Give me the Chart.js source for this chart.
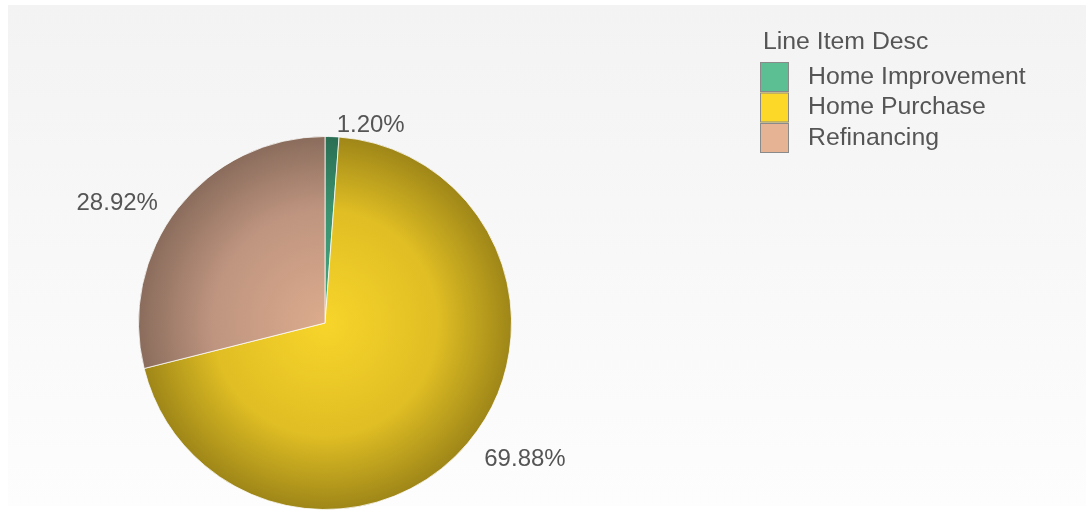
<!DOCTYPE html>
<html>
<head>
<meta charset="utf-8">
<script src="https://cdn.jsdelivr.net/npm/chart.js@4.4.0/dist/chart.umd.min.js"></script>
<style>
  body { margin: 0; background: #fff; }
  #wrap { position: relative; width: 1086px; height: 512px; }
  #bg { position: absolute; left: 8px; top: 5px; right: 0; bottom: 6px;
        background: linear-gradient(#f3f3f3, #fdfdfd); }
  #myChart { position: absolute; left: 0; top: 0; }
</style>
</head>
<body>
<div id="wrap">
  <div id="bg"></div>
  <canvas id="myChart" width="1086" height="512"></canvas>
</div>
<script>
// dati
const legendTitle = 'Line Item Desc';
const categories = ['Home Improvement', 'Home Purchase', 'Refinancing'];
const shares = [1.20, 69.88, 28.92];
const swatchColors = ['#5cbf94', '#fcd828', '#e6b394'];
// colori gradiente: centro, meta, bordo
const centerColors = ['#46a882', '#f8d52a', '#dcab8c'];
const midColors = ['#3a9270', '#e0be24', '#bf9580'];
const edgeColors = ['#2a6e54', '#9e8618', '#8a6c5c'];

const FONT = '"Liberation Sans", Arial, sans-serif';

function sliceFill(context) {
    const i = context.dataIndex;
    const a = context.chart.chartArea;
    if (!a) return swatchColors[i];
    const cx = (a.left + a.right) / 2;
    const cy = (a.top + a.bottom) / 2;
    const r = Math.min(a.right - a.left, a.bottom - a.top) / 2;
    const g = context.chart.ctx.createRadialGradient(cx, cy, 0, cx, cy, r);
    g.addColorStop(0, centerColors[i]);
    g.addColorStop(0.6, midColors[i]);
    g.addColorStop(1, edgeColors[i]);
    return g;
}

// etichette percentuali fuori dalle fette
const outsideLabels = {
    id: 'outsideLabels',
    afterDatasetsDraw(chart) {
        const c = chart.ctx;
        const meta = chart.getDatasetMeta(0);
        c.save();
        c.font = '24px ' + FONT;
        c.fillStyle = '#555555';
        c.textBaseline = 'middle';
        meta.data.forEach((arc, i) => {
            const mid = (arc.startAngle + arc.endAngle) / 2;
            const d = arc.outerRadius + 16.5;
            const x = arc.x + Math.cos(mid) * d;
            const y = arc.y + Math.sin(mid) * d;
            const right = Math.cos(mid) >= 0;
            c.textAlign = right ? 'left' : 'right';
            c.fillText(shares[i].toFixed(2) + '%', x + (right ? 4 : -7), y + 5.5);
        });
        c.restore();
    }
};

// legenda in alto a destra
const sideLegend = {
    id: 'sideLegend',
    afterDraw(chart) {
        const c = chart.ctx;
        c.save();
        c.font = '24.8px ' + FONT;
        c.fillStyle = '#555555';
        c.textBaseline = 'middle';
        c.textAlign = 'left';
        c.fillText(legendTitle, 763, 42);
        categories.forEach((name, i) => {
            const y = 62 + i * 30.5;
            c.fillStyle = swatchColors[i];
            c.fillRect(760, y, 29, 30);
            c.strokeStyle = '#8a8a8a';
            c.lineWidth = 1;
            c.strokeRect(760.5, y + 0.5, 28, 29);
            c.fillStyle = '#555555';
            c.fillText(name, 808, y + 15);
        });
        c.restore();
    }
};

const data = {
    labels: categories,
    datasets: [{
        data: shares,
        backgroundColor: sliceFill,
        borderColor: 'rgba(255,255,255,0.75)',
        borderWidth: 1
    }]
};

const config = {
    type: 'pie',
    data,
    options: {
        responsive: false,
        animation: false,
        layout: { padding: { left: 138, right: 574, top: 136, bottom: 2 } },
        plugins: {
            legend: { display: false },
            tooltip: { enabled: false }
        }
    },
    plugins: [outsideLabels, sideLegend]
};

const myChart = new Chart(document.getElementById('myChart'), config);
</script>
</body>
</html>
